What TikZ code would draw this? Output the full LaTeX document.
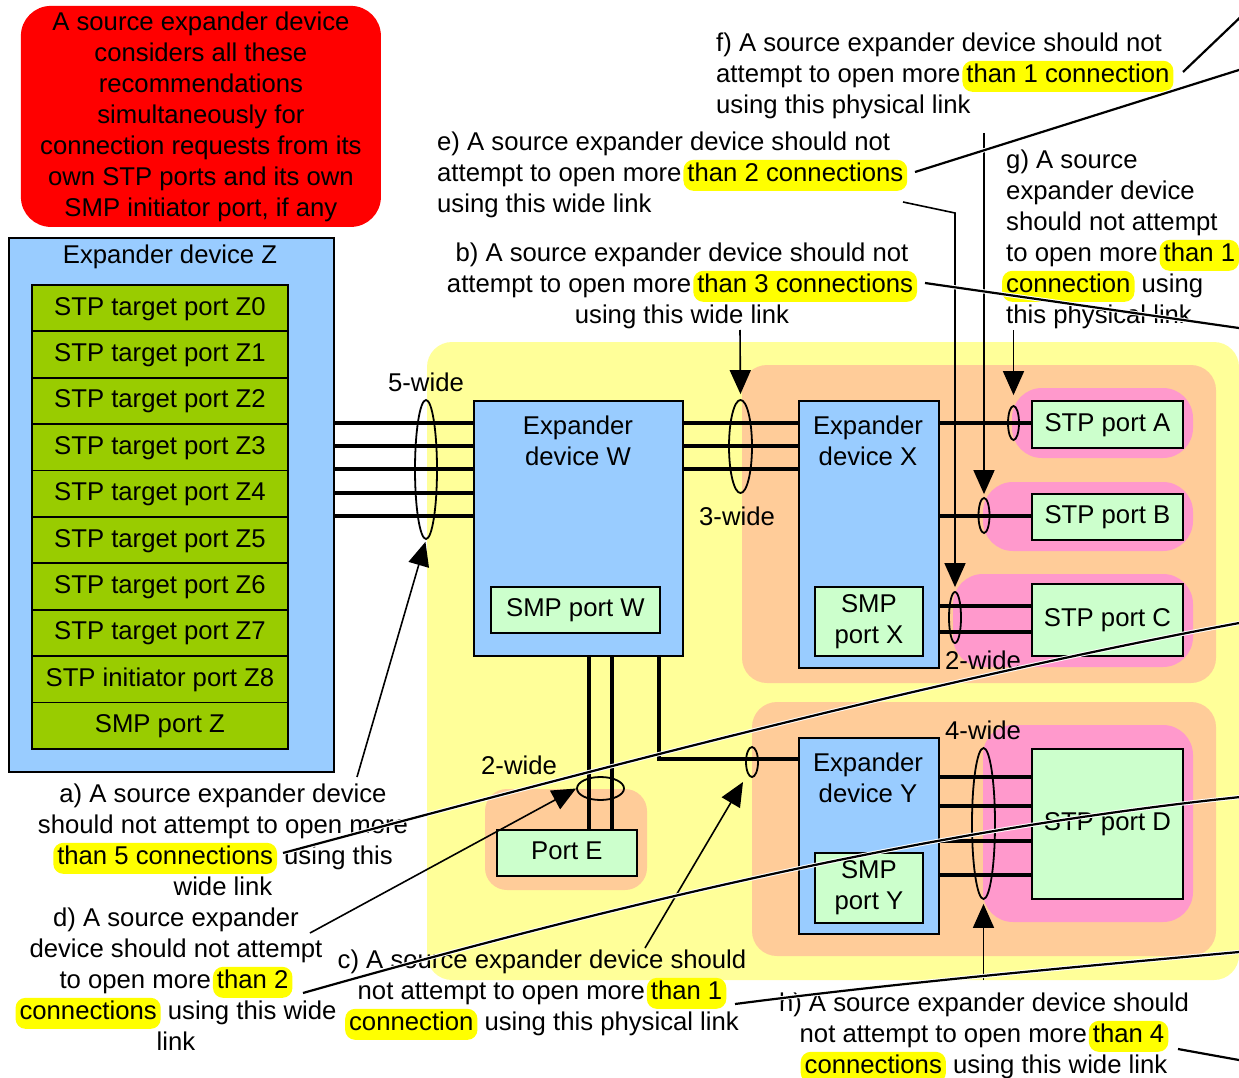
\documentclass[tikz,border=0pt]{standalone}
\usepackage{fontspec}
\setmainfont{Liberation Sans}
\usetikzlibrary{arrows.meta,shapes.geometric}
\definecolor{zred}{HTML}{FF0000}
\definecolor{zblue}{HTML}{99CCFF}
\definecolor{zolive}{HTML}{99CC00}
\definecolor{zlgreen}{HTML}{CCFFCC}
\definecolor{zyellow}{HTML}{FFFF99}
\definecolor{zorange}{HTML}{FFCC99}
\definecolor{zpink}{HTML}{FF99CC}
\definecolor{zhl}{HTML}{FFFF00}
\newcommand{\hlt}[1]{\smash{\tikz[baseline=(hl.base)]\node[fill=zhl,draw=none,rounded corners=10pt,inner xsep=4pt,inner ysep=2pt,text height=20pt,text depth=7pt,anchor=base,align=left](hl){#1};}}
\newcommand{\hsp}{\hspace{2pt}}
\begin{document}
\begin{tikzpicture}[x=1pt,y=-1pt,
  txt/.style={inner sep=0pt,font=\fontsize{25.7pt}{31pt}\selectfont},
  box/.style={draw=black,line width=1.8pt,inner sep=0pt,anchor=north west},
  boxtxt/.style={text height=19pt,text depth=5pt},
  wire/.style={line width=3.2pt},
  ell/.style={draw=black,ellipse,line width=1.8pt,inner sep=0pt},
  arr/.style={line width=1.6pt,-{Triangle[length=24pt,width=21pt]}},
  halo/.style={draw=white,double=black,line width=1pt,double distance=2.2pt},
  ctext/.style={txt,align=center,anchor=north},
  ltext/.style={txt,align=left,anchor=north west}]
\useasboundingbox (0,0) rectangle (1239,1078);
\clip (0,0) rectangle (1239,1078);
% regions
\fill[zyellow,rounded corners=25pt] (427,342) rectangle (1239,980);
\fill[zorange,rounded corners=25pt] (742,365) rectangle (1216,683);
\fill[zorange,rounded corners=25pt] (752,702) rectangle (1216,956);
\fill[zorange,rounded corners=22pt] (485,789) rectangle (647,890);
\fill[zpink,rounded corners=30pt] (1012,388) rectangle (1193,458);
\fill[zpink,rounded corners=30pt] (983,482) rectangle (1193,551);
\fill[zpink,rounded corners=30pt] (953,574) rectangle (1193,667);
\fill[zpink,rounded corners=30pt] (983,725) rectangle (1193,922);
% red note
\node[box,txt,draw=none,fill=zred,rounded corners=30pt,minimum width=360pt,minimum height=221pt,align=center] (R) at (20,5)
 {\rule{0pt}{4pt}A source expander device\\considers all these\\recommendations\\simultaneously for\\connection requests from its\\own STP ports and its own\\SMP initiator port, if any};
% expander Z
\node[box,fill=zblue,minimum width=325pt,minimum height=534pt] (Z) at (8,237) {};
\node[ctext] (tZ) at (170,245) {Expander device Z};
\foreach \i/\t in {0/STP target port Z0,1/STP target port Z1,2/STP target port Z2,3/STP target port Z3,4/STP target port Z4,5/STP target port Z5,6/STP target port Z6,7/STP target port Z7,8/STP initiator port Z8,9/SMP port Z}
  \node[box,txt,boxtxt,fill=zolive,minimum width=256pt,minimum height=46.4pt] (Zr\i) at (31,{284+46.4*\i}) {\t};
% expanders
\node[box,fill=zblue,minimum width=209pt,minimum height=255pt] (W) at (473,400) {};
\node[ctext] (tW) at (578,416) {Expander\\device W};
\node[box,txt,boxtxt,fill=zlgreen,minimum width=169pt,minimum height=46pt] (SW) at (490,586) {SMP port W};
\node[box,fill=zblue,minimum width=140pt,minimum height=267pt] (X) at (798,400) {};
\node[ctext] (tX) at (868,416) {Expander\\device X};
\node[box,txt,fill=zlgreen,minimum width=108pt,minimum height=69pt,align=center] (SX) at (814,586) {SMP\\port X};
\node[box,fill=zblue,minimum width=140pt,minimum height=196pt] (Y) at (798,737) {};
\node[ctext] (tY) at (868,753) {Expander\\device Y};
\node[box,txt,fill=zlgreen,minimum width=108pt,minimum height=70pt,align=center] (SY) at (814,852) {SMP\\port Y};
% end ports
\node[box,txt,boxtxt,fill=zlgreen,minimum width=151pt,minimum height=47pt] (A) at (1031,400) {STP port A};
\node[box,txt,boxtxt,fill=zlgreen,minimum width=151pt,minimum height=46pt] (B) at (1031,493) {STP port B};
\node[box,txt,boxtxt,fill=zlgreen,minimum width=151pt,minimum height=72pt] (C) at (1031,583) {STP port C};
\node[box,txt,boxtxt,fill=zlgreen,minimum width=151pt,minimum height=150pt] (D) at (1031,748) {STP port D};
\node[box,txt,boxtxt,fill=zlgreen,minimum width=140pt,minimum height=46pt] (E) at (496,829) {Port E};
% wires
\foreach \y in {423,446,469,493,516} \draw[wire] (Z.east |- {(0,\y)}) -- (W.west |- {(0,\y)});
\foreach \y in {423,446,469} \draw[wire] (W.east |- {(0,\y)}) -- (X.west |- {(0,\y)});
\draw[wire] (X.east |- {(0,423)}) -- (A.west |- {(0,423)});
\draw[wire] (X.east |- {(0,516)}) -- (B.west |- {(0,516)});
\foreach \y in {606,632} \draw[wire] (X.east |- {(0,\y)}) -- (C.west |- {(0,\y)});
\foreach \y in {777,806,841,875} \draw[wire] (Y.east |- {(0,\y)}) -- (D.west |- {(0,\y)});
\foreach \x in {589,612} \draw[wire] (W.south -| {(\x,0)}) -- (E.north -| {(\x,0)});
\draw[wire] (W.south -| {(659,0)}) |- (Y.west |- {(0,759)});
% link ellipses
\node[ell,minimum width=22pt,minimum height=139pt] (e5) at (426,469.5) {};
\node[ell,minimum width=23pt,minimum height=93pt] (e3) at (740.5,446.5) {};
\node[ell,minimum width=11pt,minimum height=34pt] (eA) at (1013.5,423) {};
\node[ell,minimum width=11pt,minimum height=35pt] (eB) at (984,515.5) {};
\node[ell,minimum width=12pt,minimum height=51pt] (eC) at (955,617.5) {};
\node[ell,minimum width=23pt,minimum height=151pt] (e4) at (983.5,823.5) {};
\node[ell,minimum width=12pt,minimum height=30pt] (eY) at (752,762) {};
\node[ell,minimum width=47pt,minimum height=23pt] (eE) at (600.5,788.5) {};
% width labels
\node[ctext] (l5) at (426,373) {5-wide};
\node[ctext] (l3) at (737,507) {3-wide};
\node[ctext] (l2c) at (983,651) {2-wide};
\node[ctext] (l4) at (983,721) {4-wide};
\node[ctext] (l2e) at (519,756) {2-wide};
% recommendation texts
\node[ltext] (tf) at (716,33) {f) A source expander device should not\\attempt to open more\hsp\hlt{than 1 connection}\\using this physical link};
\node[ltext] (te) at (437,132) {e) A source expander device should not\\attempt to open more\hsp\hlt{than 2 connections}\\using this wide link};
\node[ltext] (tg) at (1006,150) {g) A source\\expander device\\should not attempt\\to open more\hsp\hlt{than 1}\\\hspace*{-4pt}\hlt{connection} using\\this physical link};
\node[ctext] (tb) at (682,243) {b) A source expander device should not\\attempt to open more\hsp\hlt{than 3 connections}\\using this wide link};
\node[ctext] (ta) at (223,784) {a) A source expander device\\should not attempt to open more\\\hlt{than 5 connections} using this\\wide link};
\node[ctext] (td) at (176,908) {d) A source expander\\device should not attempt\\to open more\hsp\hlt{than 2}\\\hlt{connections} using this wide\\link};
\node[ctext] (tc) at (542,950) {c) A source expander device should\\not attempt to open more\hsp\hlt{than 1}\\\hlt{connection} using this physical link};
\node[ctext] (th) at (984,993) {h) A source expander device should\\not attempt to open more\hsp\hlt{than 4}\\\hlt{connections} using this wide link};
% pointer arrows
\coordinate (aS) at (357,777);
\coordinate (bS) at (740,330);
\coordinate (cS) at (645,948);
\coordinate (cT) at (743,782);
\coordinate (dS) at (310,933);
\coordinate (eS) at (903,202);
\coordinate (eK) at (955,213);
\coordinate (fS) at (984,133);
\coordinate (gS) at (1013.5,330);
\coordinate (hS) at (983.5,980);
\draw[arr,shorten >=2pt] (aS) -- (e5.south);
\draw[arr,shorten >=5pt] (bS) -- (e3.north);
\draw[arr] (cS) -- (cT);
\draw[arr] (dS) -- (eE.west);
\draw[arr,shorten >=4pt] (eS) -- (eK) -- (eC.north);
\draw[arr,shorten >=3pt] (fS) -- (eB.north);
\draw[arr,shorten >=10pt] (gS) -- (eA.north);
\draw[arr,shorten >=4pt] (hS) -- (e4.south);
% leader lines to the right edge
\coordinate (fL) at (1183,72);   \coordinate (fO) at (1250,8);
\coordinate (eL) at (915,172);   \coordinate (eO) at (1250,66.5);
\coordinate (bL) at (925,283);   \coordinate (bO) at (1250,329.6);
\coordinate (aL) at (283,853);   \coordinate (aO) at (1250,621);
\coordinate (dL) at (303,993);   \coordinate (dO) at (1250,796);
\coordinate (cL) at (735,1004);  \coordinate (cO) at (1250,951);
\coordinate (hL) at (1178,1049); \coordinate (hO) at (1250,1062);
\draw[halo] (fL) -- (fO);
\draw[halo] (eL) -- (eO);
\draw[halo] (bL) -- (bO);
\draw[halo] (aL) .. controls (603,767) and (945,677) .. (aO);
\draw[halo] (dL) .. controls (613,905) and (935,828) .. (dO);
\draw[halo] (cL) .. controls (905,982) and (1075,967) .. (cO);
\draw[halo] (hL) -- (hO);
\end{tikzpicture}
\end{document}
